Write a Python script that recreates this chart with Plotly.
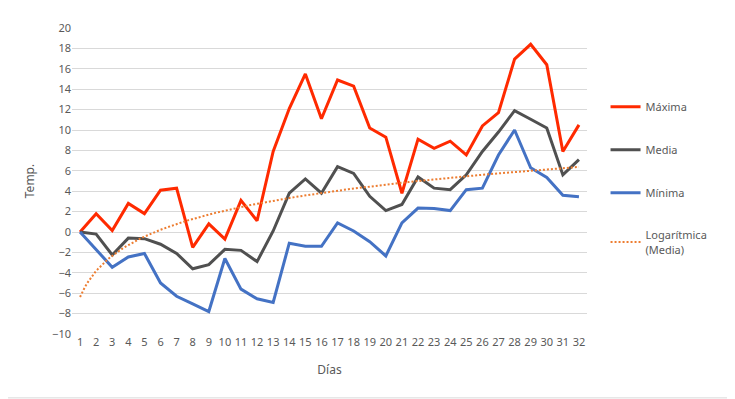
import numpy as np
import plotly.graph_objects as go

dias = list(range(1, 33))
maxima = [0, 1.8, 0.15, 2.8, 1.8, 4.1, 4.3, -1.5, 0.8, -0.7, 3.1, 1.1, 7.9, 12.1, 15.5, 11.1,
          14.9, 14.3, 10.2, 9.3, 3.8, 9.1, 8.2, 8.9, 7.55, 10.4, 11.7, 16.95, 18.4, 16.4, 7.9, 10.5]
media = [0, -0.2, -2.25, -0.6, -0.65, -1.2, -2.1, -3.6, -3.2, -1.7, -1.8, -2.9, 0.1, 3.8, 5.2, 3.8,
         6.4, 5.75, 3.5, 2.1, 2.7, 5.4, 4.3, 4.15, 5.6, 7.9, 9.8, 11.9, 11.05, 10.2, 5.6, 7.1]
minima = [0, -1.7, -3.45, -2.45, -2.1, -5.0, -6.3, -7.05, -7.8, -2.6, -5.6, -6.55, -6.9, -1.1, -1.4, -1.4,
          0.9, 0.1, -0.95, -2.35, 0.9, 2.35, 2.3, 2.1, 4.15, 4.3, 7.55, 10.0, 6.3, 5.35, 3.6, 3.45]
y_ticks = list(range(-10, 21, 2))

# logarithmic trendline of Media (least squares on ln(x))
x_arr = np.array(dias, dtype=float)
a, b = np.polyfit(np.log(x_arr), np.array(media), 1)
x_fine = np.linspace(1, 32, 200)
trend = a * np.log(x_fine) + b

font = "Noto Sans"
txt = "#595959"

fig = go.Figure()
fig.add_trace(go.Scatter(x=dias, y=maxima, mode="lines", name="Máxima", legendgroup="a",
                         line=dict(color="#FF2A00", width=3)))
fig.add_trace(go.Scatter(x=dias, y=media, mode="lines", name="Media", legendgroup="b",
                         line=dict(color="#505050", width=3)))
fig.add_trace(go.Scatter(x=dias, y=minima, mode="lines", name="Mínima", legendgroup="c",
                         line=dict(color="#4472C4", width=3)))
fig.add_trace(go.Scatter(x=x_fine, y=trend, mode="lines", name="Logarítmica<br>(Media)", legendgroup="d",
                         line=dict(color="#ED7D31", width=2, dash="2px,2px")))

fig.update_layout(
    width=735, height=399,
    margin=dict(l=64, r=156, t=17, b=73),
    paper_bgcolor="white", plot_bgcolor="white",
    font=dict(family=font, size=11, color=txt),
    legend=dict(x=1.036, y=0.79, xanchor="left", yanchor="top", traceorder="grouped",
                tracegroupgap=24, font=dict(size=11, color=txt), itemwidth=30),
    xaxis=dict(range=[0.5, 32.5], tickmode="array", tickvals=dias, ticktext=[str(d) for d in dias],
               showgrid=False, zeroline=False, showline=False, ticks="",
               title=dict(text="Días", font=dict(size=12, color=txt), standoff=17),
               tickfont=dict(size=11, color=txt)),
    yaxis=dict(range=[-10, 20], tickmode="array", tickvals=y_ticks,
               showgrid=True, gridcolor="#D9D9D9", gridwidth=1, zeroline=False,
               showline=False, ticks="", ticklen=0,
               title=dict(text="Temp.", font=dict(size=12, color=txt), standoff=14),
               tickfont=dict(size=11, color=txt)),
    shapes=[dict(type="rect", xref="paper", yref="paper", x0=-0.2, x1=1.2835, y0=-0.2087, y1=1.2,
                 line=dict(color="#D9D9D9", width=1), fillcolor="rgba(0,0,0,0)")],
)

fig.write_html("out.html")
